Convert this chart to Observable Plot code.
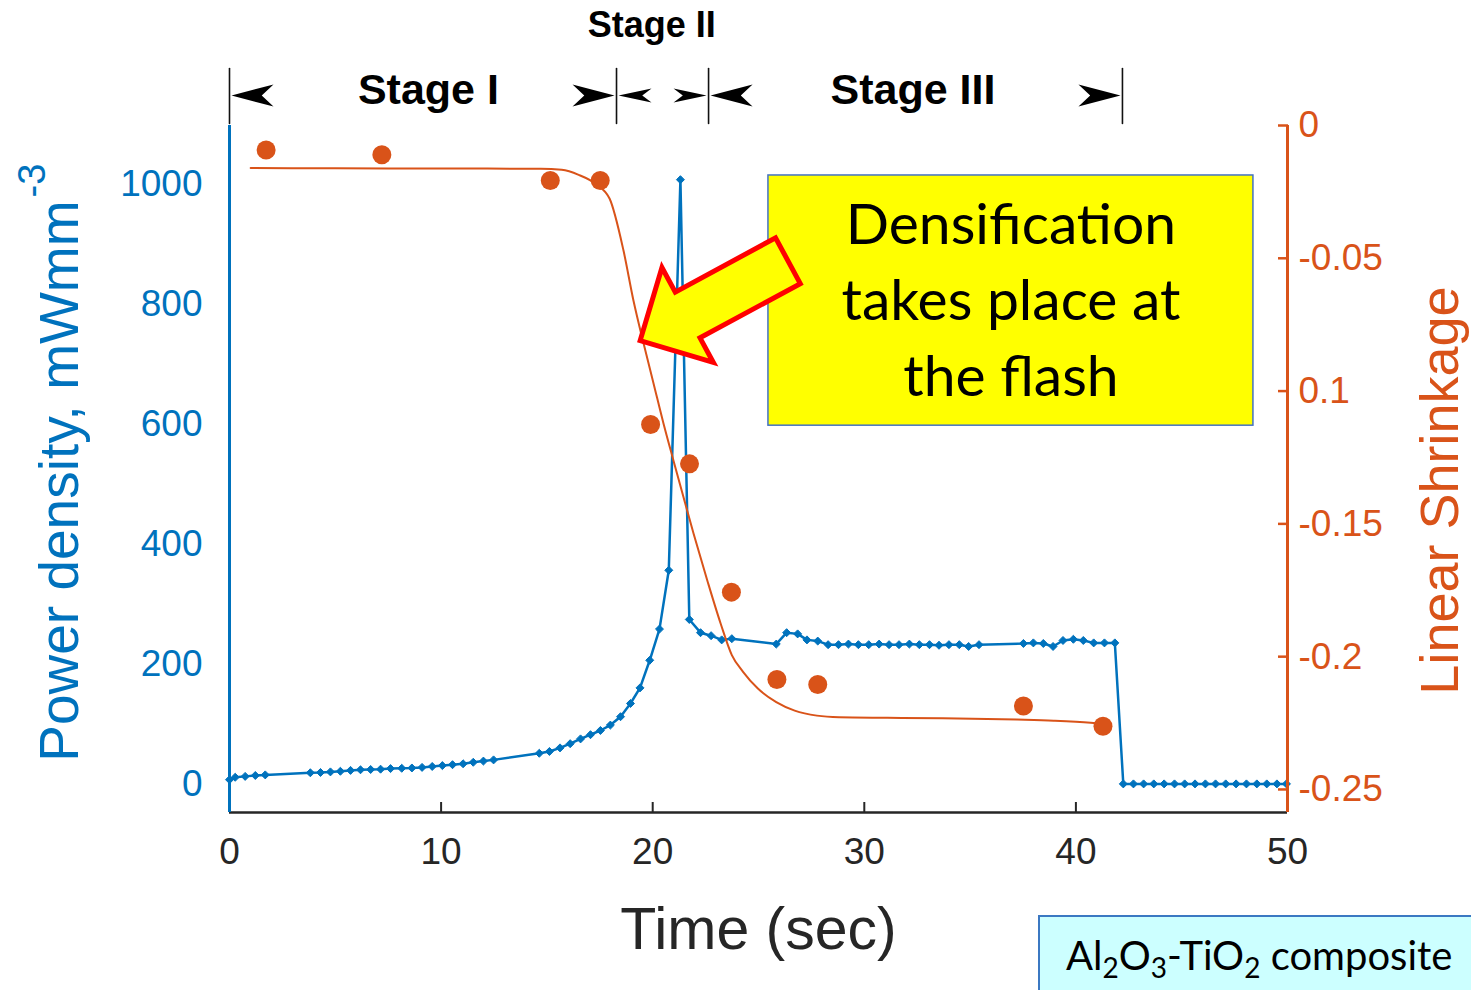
<!DOCTYPE html>
<html>
<head>
<meta charset="utf-8">
<script src="https://cdn.jsdelivr.net/npm/d3@7"></script>
<script src="https://cdn.jsdelivr.net/npm/@observablehq/plot@0.6"></script>
<style>
  html, body { margin: 0; padding: 0; background: #fff; overflow: hidden; }
  #wrap { position: relative; width: 1471px; height: 990px; overflow: hidden; }
  .caption {
    position: absolute; left: 1038px; top: 915px; width: 520px; height: 90px;
    background: #CCFFFF; border: 2px solid #3B78C2; box-sizing: border-box;
    font-family: Lato, "Open Sans", sans-serif; font-size: 40px; color: #000;
    white-space: nowrap; padding: 14px 0 0 26px; line-height: 1.2;
  }
  .caption sub { font-size: 0.7em; vertical-align: -0.28em; line-height: 0; }
</style>
</head>
<body>
<div id="wrap"></div>
<script>
// Flash sintering run: power density (left axis) and linear shrinkage (right axis) vs time

// Power density trace, mW mm^-3
const powerTime = [0, 0.27, 0.74, 1.22, 1.69,
  3.82, 4.30, 4.77, 5.24, 5.72, 6.19, 6.67, 7.14, 7.61, 8.14, 8.62, 9.10, 9.58, 10.06, 10.54, 11.04, 11.52, 12.00, 12.48,
  14.64, 15.12, 15.62, 16.10, 16.59, 17.06, 17.53, 18.00, 18.48, 18.95, 19.40, 19.86, 20.32, 20.76, 21.31, 21.73, 22.26, 22.76, 23.26, 23.74,
  25.84, 26.33, 26.85, 27.29, 27.80, 28.29, 28.78, 29.25, 29.72, 30.21, 30.70, 31.17, 31.64, 32.13, 32.60, 33.08, 33.53, 34.00, 34.49, 34.93, 35.42,
  37.52, 37.99, 38.46, 38.92, 39.39, 39.88, 40.35, 40.84, 41.35, 41.84,
  42.24, 42.72, 43.20, 43.68, 44.17, 44.66, 45.14, 45.63, 46.12, 46.60, 47.08, 47.57, 48.06, 48.55, 49.02, 49.50, 49.95];
const powerDensity = [8, 12, 13.5, 15, 16,
  19.5, 20, 21, 22, 23.5, 24.5, 25, 25.5, 26.5, 27, 27.5, 28.5, 30, 31.5, 33, 34.5, 37, 39, 41,
  52, 55, 61, 68, 76, 83, 90, 99, 113, 135, 161, 207, 259, 357, 1008, 275, 253, 248, 241, 243,
  234, 253, 251, 241, 239, 233, 233, 234, 233, 233, 234, 233, 233, 234, 233, 233, 232, 233, 233, 230, 233,
  235, 236, 235, 230, 240, 242, 240, 236, 236, 236,
  1, 1, 1, 1, 1, 1, 1, 1, 1, 1, 1, 1, 1, 1, 1, 1, 1];

// Measured linear shrinkage
const shrinkTime = [1.73, 7.2, 15.16, 17.52, 19.90, 21.74, 23.72, 25.87, 27.80, 37.52, 41.28];
const shrinkValue = [-0.0092, -0.0110, -0.0207, -0.0207, -0.1126, -0.1274, -0.1757, -0.2086, -0.2105, -0.2186, -0.2262];

// Fitted shrinkage curve
const fitTime = [1.0, 5, 10, 14.7, 15.7, 16.5, 17.3, 17.96, 18.62, 19.09, 19.57, 20.04, 20.51, 20.98, 21.46, 21.93,
  22.58, 23.21, 23.74, 24.27, 24.97, 25.84, 26.71, 27.76, 28.81, 31.08, 33.71, 37.2, 38.95, 40.7, 41.22];
const fitValue = [-0.0160, -0.0161, -0.0162, -0.0163, -0.0167, -0.0186, -0.0220, -0.0275, -0.0471, -0.0659, -0.0821, -0.0971, -0.1122, -0.1261, -0.1401, -0.1536,
  -0.1713, -0.1875, -0.1994, -0.2057, -0.2120, -0.2171, -0.2203, -0.2222, -0.2228, -0.2230, -0.2232, -0.2237, -0.2241, -0.2249, -0.2253];

// Axes
const xTicks = [0, 10, 20, 30, 40, 50];
const powerTicks = [0, 200, 400, 600, 800, 1000];
const shrinkTicks = [0, -0.05, -0.1, -0.15, -0.2, -0.25];
const shrinkTickLabels = ["0", "-0.05", "0.1", "-0.15", "-0.2", "-0.25"];
const powerDomain = [-46.7, 1098.3];

// Stage brackets
const stageBounds = [0, 18.29, 22.64, 42.2];
const stageNames = ["Stage I", "Stage II", "Stage III"];
const stageLabelTime = [9.4, 19.95, 32.3];

// Callout
const calloutLines = "Densification\ntakes place at\nthe flash";
const calloutBox = {t1: 25.47, t2: 48.39, p1: 598, p2: 1015};
const calloutTip = {t: 19.43, s: -0.0812, angle: -28.4};

const BLUE = "#0072BD", ORANGE = "#D95319", INK = "#262626";

// shrinkage is drawn on the power-density scale through this linear map
const toP = d3.scaleLinear([-0.25, 0], [-8.3, 1098.3]);

const power = powerTime.map((t, i) => ({t, p: powerDensity[i]}));
const shrink = shrinkTime.map((t, i) => ({t, s: shrinkValue[i]}));
const fit = fitTime.map((t, i) => ({t, s: fitValue[i]}));
const rightTicks = shrinkTicks.map(toP);
const rightLabel = new Map(rightTicks.map((p, i) => [p, shrinkTickLabels[i]]));
const stages = stageNames.map((name, i) => ({name, t: stageLabelTime[i]}));

// Concave bracket arrowheads; dir = +1 points left (body to the right), -1 points right
function bracketHead(dir, L, W) {
  return {
    draw(ctx) {
      const g = 2 * dir;
      ctx.moveTo(g, 0);
      ctx.lineTo(g + dir * L, -W);
      ctx.lineTo(g + dir * 0.72 * L, 0);
      ctx.lineTo(g + dir * L, W);
      ctx.closePath();
    }
  };
}
const stemShape = {draw(ctx, l) { ctx.moveTo(0, 0); ctx.lineTo(0, -l); }};

// Block arrow pointing at the steep part of the shrinkage curve
function calloutArrow(index, scales) {
  const x0 = scales.x(calloutTip.t), y0 = scales.y(toP(calloutTip.s));
  const a = calloutTip.angle * Math.PI / 180;
  const u = [Math.cos(a), Math.sin(a)], n = [-u[1], u[0]];
  const outline = [[0, 0], [54, -54], [54, -26], [168, -26], [168, 26], [54, 26], [54, 54]];
  const pts = outline.map(([al, pr]) => [x0 + al * u[0] + pr * n[0], y0 + al * u[1] + pr * n[1]]);
  return d3.create("svg:path")
    .attr("d", "M" + pts.map(p => p.join(",")).join("L") + "Z")
    .attr("fill", "#FFFF00").attr("stroke", "#FF0000")
    .attr("stroke-width", 5).attr("stroke-linejoin", "miter")
    .node();
}

const chart = Plot.plot({
  width: 1471, height: 990,
  marginLeft: 229, marginRight: 184, marginTop: 125, marginBottom: 178,
  style: {fontFamily: "'Liberation Sans', Arial, sans-serif", background: "white", overflow: "visible"},
  x: {domain: [0, 50], axis: null},
  y: {domain: powerDomain, axis: null},
  marks: [
    // bottom axis: inward ticks and labels
    Plot.axisX(xTicks.slice(1, -1), {tickSize: -10, fill: "none", stroke: INK, strokeWidth: 2, label: null}),
    Plot.axisX(xTicks, {tickSize: 0, tickPadding: 25, fontSize: 37, fill: INK, tickFormat: d => String(d), label: null}),
    // left axis labels
    Plot.axisY(powerTicks, {anchor: "left", tickSize: 0, tickPadding: 27, fontSize: 37, fill: BLUE,
      tickFormat: d => String(d), label: null}),
    // right axis (shrinkage)
    Plot.axisY(rightTicks, {anchor: "right", tickSize: -10, fill: "none", stroke: ORANGE, strokeWidth: 2.5, label: null}),
    Plot.axisY(rightTicks, {anchor: "right", tickSize: 0, tickPadding: 11, fontSize: 37, fill: ORANGE,
      tickFormat: d => rightLabel.get(d), label: null}),
    Plot.ruleY([powerDomain[0]], {stroke: INK, strokeWidth: 2.5}),

    // power density
    Plot.line(power, {x: "t", y: "p", stroke: BLUE, strokeWidth: 2.5}),
    Plot.dot(power, {x: "t", y: "p", symbol: "diamond2", r: 3.6, fill: BLUE, stroke: BLUE, strokeWidth: 1}),

    // shrinkage fit and measurements
    Plot.line(fit, {x: "t", y: d => toP(d.s), curve: "monotone-x", stroke: ORANGE, strokeWidth: 2}),
    Plot.dot(shrink, {x: "t", y: d => toP(d.s), r: 9.5, fill: ORANGE}),

    Plot.ruleX([0], {stroke: BLUE, strokeWidth: 3}),
    Plot.ruleX([50], {stroke: ORANGE, strokeWidth: 3}),

    // stage brackets
    Plot.vector(stageBounds, {x: d => d, frameAnchor: "top", dy: -2, length: 55, anchor: "start",
      shape: stemShape, stroke: "#111", strokeWidth: 1.6}),
    Plot.dot([stageBounds[0], stageBounds[2]], {x: d => d, frameAnchor: "top", dy: -30, symbol: bracketHead(1, 42, 11), fill: "#000", stroke: "none"}),
    Plot.dot([stageBounds[1], stageBounds[3]], {x: d => d, frameAnchor: "top", dy: -30, symbol: bracketHead(-1, 42, 11), fill: "#000", stroke: "none"}),
    Plot.dot([stageBounds[1]], {x: d => d, frameAnchor: "top", dy: -30, symbol: bracketHead(1, 33, 7), fill: "#000", stroke: "none"}),
    Plot.dot([stageBounds[2]], {x: d => d, frameAnchor: "top", dy: -30, symbol: bracketHead(-1, 33, 7), fill: "#000", stroke: "none"}),
    Plot.text([stages[0], stages[2]], {x: "t", text: "name", frameAnchor: "top", lineAnchor: "middle", dy: -35,
      fontSize: 43, fontWeight: "bold", fill: "#000"}),
    Plot.text([stages[1]], {x: "t", text: "name", frameAnchor: "top", lineAnchor: "middle", dy: -100,
      fontSize: 36, fontWeight: "bold", fill: "#000"}),

    // callout
    Plot.rect([calloutBox], {x1: "t1", x2: "t2", y1: "p1", y2: "p2", fill: "#FFFF00", stroke: "#4472C4", strokeWidth: 1.5}),
    Plot.text([calloutBox], {x: d => (d.t1 + d.t2) / 2, y: d => (d.p1 + d.p2) / 2, text: () => calloutLines, dy: -5,
      fontFamily: "Lato, 'Open Sans', sans-serif", fontSize: 57, lineHeight: 1.333, fill: "#000"}),
    calloutArrow,

    // axis titles
    Plot.text(["Time (sec)"], {text: d => d, frameAnchor: "bottom", lineAnchor: "middle", dy: 118, fontSize: 59, fill: INK}),
    Plot.text(["Power density, mWmm"], {text: d => d, frameAnchor: "left", lineAnchor: "middle", dx: -169, dy: -268.5, rotate: -90,
      textAnchor: "end", fontSize: 55, fill: BLUE}),
    Plot.text(["-3"], {text: d => d, frameAnchor: "left", lineAnchor: "middle", dx: -197, dy: -271.5, rotate: -90,
      textAnchor: "start", fontSize: 38, fill: BLUE}),
    Plot.text(["Linear Shrinkage"], {text: d => d, frameAnchor: "right", lineAnchor: "middle", textAnchor: "middle",
      dx: 153, dy: 21.5, rotate: -90, fontSize: 54, fill: ORANGE})
  ]
});

const wrap = document.getElementById("wrap");
wrap.appendChild(chart);
const cap = document.createElement("div");
cap.className = "caption";
cap.innerHTML = "Al<sub>2</sub>O<sub>3</sub>-TiO<sub>2</sub> composite";
wrap.appendChild(cap);
</script>
</body>
</html>
